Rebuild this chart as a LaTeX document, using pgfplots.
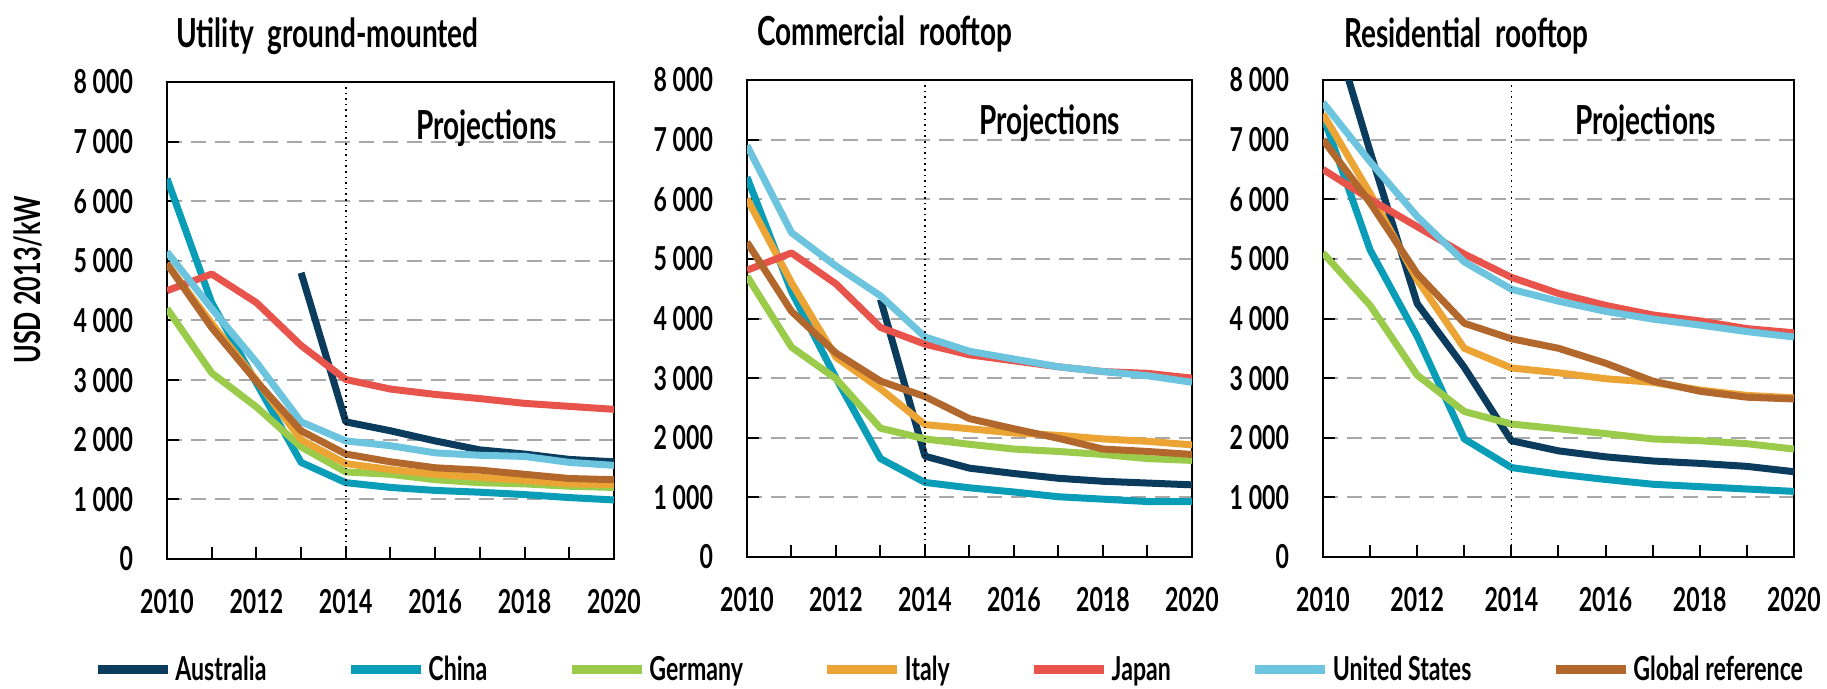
\documentclass[border=0pt]{standalone}
\usepackage{pgfplots}
\pgfplotsset{compat=1.18}
\usepackage{fontspec}
\setmainfont{Lato}[FakeStretch=0.7]
\definecolor{cAus}{HTML}{0B3C5D}
\definecolor{cChn}{HTML}{0A9DB8}
\definecolor{cGer}{HTML}{9BCB4B}
\definecolor{cIta}{HTML}{ECA534}
\definecolor{cJpn}{HTML}{E8534B}
\definecolor{cUSA}{HTML}{6CC4DE}
\definecolor{cGlb}{HTML}{B2682C}
\definecolor{gridgray}{HTML}{A8A8A8}
\tikzset{proj/.style={font=\fontsize{20}{22}\selectfont\bfseries}}
\pgfplotsset{
  panel/.style={
    scale only axis, height=238.5pt,
    xmin=2010, xmax=2020, ymin=0, ymax=8000,
    xtick={2010,...,2020},
    xticklabels={2010,,2012,,2014,,2016,,2018,,2020},
    ytick={0,1000,...,8000},
    yticklabels={0,1 000,2 000,3 000,4 000,5 000,6 000,7 000,8 000},
    xtick pos=bottom, ytick pos=left,
    tick align=inside, major tick length=6pt,
    tick style={black, line width=1pt},
    axis line style={line width=1pt},
    ymajorgrids,
    grid style={gridgray, line width=1pt, dash pattern=on 7.5pt off 4.5pt},
    every axis plot/.append style={line width=3.5pt, line join=round, mark=none},
    tick label style={font=\fontsize{16.5}{18}\selectfont\bfseries},
    xticklabel style={yshift=-11.5pt},
    yticklabel style={xshift=-13.5pt},
    title style={font=\fontsize{20}{24}\selectfont\bfseries, at={(0,1)}, anchor=base west, inner sep=0pt, yshift=11.5pt},
    legend image code/.code={\draw[#1, line width=4.5pt] (0pt,0pt) -- (35pt,0pt);},
  },
}
\begin{document}
\begin{tikzpicture}
\path[use as bounding box] (0,0) rectangle (913.5pt,344.5pt);
% ---------- Utility ground-mounted ----------
\begin{axis}[panel, width=223.5pt, at={(83.5pt,65pt)}, anchor=south west,
  title={Utility\ \ ground-mounted}, title style={xshift=4.5pt},
  ylabel={USD 2013/kW},
  ylabel style={at={(axis description cs:-0.31,0.585)}, anchor=center, font=\fontsize{18}{20}\selectfont\bfseries},
  legend columns=7,
  legend style={at={(-0.1655,-0.2327)}, anchor=west, draw=none, fill=none, inner sep=0pt,
    font=\fontsize{16.5}{18}\selectfont\bfseries,
    nodes={inner sep=1.5pt},
    /tikz/every even column/.append style={column sep=38.5pt}},
]
\addplot[cAus] coordinates {(2013,4800)(2014,2300)(2015,2150)(2016,1980)(2017,1830)(2018,1760)(2019,1670)(2020,1630)};
\addlegendentry{Australia}
\addplot[cChn] coordinates {(2010,6380)(2011,4300)(2012,2950)(2013,1620)(2014,1280)(2015,1200)(2016,1150)(2017,1120)(2018,1080)(2019,1030)(2020,990)};
\addlegendentry{China}
\addplot[cGer] coordinates {(2010,4200)(2011,3120)(2012,2550)(2013,1880)(2014,1460)(2015,1420)(2016,1330)(2017,1280)(2018,1260)(2019,1220)(2020,1200)};
\addlegendentry{Germany}
\addplot[cIta] coordinates {(2010,4950)(2011,3950)(2012,3000)(2013,2000)(2014,1600)(2015,1500)(2016,1420)(2017,1370)(2018,1320)(2019,1260)(2020,1250)};
\addlegendentry{Italy}
\addplot[cJpn] coordinates {(2010,4500)(2011,4780)(2012,4300)(2013,3580)(2014,3010)(2015,2850)(2016,2760)(2017,2690)(2018,2610)(2019,2560)(2020,2510)};
\addlegendentry{Japan}
\addplot[cUSA] coordinates {(2010,5150)(2011,4200)(2012,3300)(2013,2300)(2014,1980)(2015,1900)(2016,1780)(2017,1740)(2018,1720)(2019,1620)(2020,1570)};
\addlegendentry{United States}
\addplot[cGlb] coordinates {(2010,4950)(2011,3880)(2012,2980)(2013,2150)(2014,1760)(2015,1630)(2016,1530)(2017,1490)(2018,1420)(2019,1350)(2020,1330)};
\addlegendentry{Global reference}
\draw[black, line width=0.8pt, dotted] (axis cs:2014,0) -- (axis cs:2014,8000);
\node[proj] at (axis cs:2017.15,7230) {Projections};
\end{axis}
% ---------- Commercial rooftop ----------
\begin{axis}[panel, width=222.5pt, at={(373.5pt,66pt)}, anchor=south west,
  title={Commercial\ \ rooftop}, title style={xshift=5pt}]
\addplot[cAus] coordinates {(2013,4320)(2014,1690)(2015,1490)(2016,1400)(2017,1320)(2018,1270)(2019,1240)(2020,1210)};
\addplot[cChn] coordinates {(2010,6370)(2011,4450)(2012,3000)(2013,1650)(2014,1250)(2015,1160)(2016,1090)(2017,1010)(2018,970)(2019,930)(2020,930)};
\addplot[cGer] coordinates {(2010,4710)(2011,3520)(2012,2990)(2013,2160)(2014,1980)(2015,1890)(2016,1810)(2017,1770)(2018,1720)(2019,1650)(2020,1620)};
\addplot[cIta] coordinates {(2010,6010)(2011,4600)(2012,3350)(2013,2820)(2014,2220)(2015,2150)(2016,2080)(2017,2040)(2018,1980)(2019,1940)(2020,1880)};
\addplot[cJpn] coordinates {(2010,4810)(2011,5100)(2012,4580)(2013,3850)(2014,3570)(2015,3390)(2016,3290)(2017,3190)(2018,3110)(2019,3080)(2020,3000)};
\addplot[cUSA] coordinates {(2010,6900)(2011,5440)(2012,4880)(2013,4380)(2014,3690)(2015,3450)(2016,3320)(2017,3190)(2018,3110)(2019,3040)(2020,2930)};
\addplot[cGlb] coordinates {(2010,5280)(2011,4120)(2012,3420)(2013,2950)(2014,2690)(2015,2320)(2016,2150)(2017,1990)(2018,1810)(2019,1770)(2020,1720)};
\draw[black, line width=0.8pt, dotted] (axis cs:2014,0) -- (axis cs:2014,8000);
\node[proj] at (axis cs:2016.8,7280) {Projections};
\end{axis}
% ---------- Residential rooftop ----------
\begin{axis}[panel, width=235.5pt, at={(661.5pt,66pt)}, anchor=south west,
  title={Residential\ \ rooftop}, title style={xshift=10.5pt, yshift=-1pt}]
\addplot[cAus] coordinates {(2010,9450)(2011,6800)(2012,4250)(2013,3180)(2014,1950)(2015,1780)(2016,1680)(2017,1610)(2018,1570)(2019,1520)(2020,1430)};
\addplot[cChn] coordinates {(2010,7400)(2011,5150)(2012,3700)(2013,1980)(2014,1500)(2015,1390)(2016,1300)(2017,1220)(2018,1180)(2019,1140)(2020,1100)};
\addplot[cGer] coordinates {(2010,5100)(2011,4220)(2012,3050)(2013,2440)(2014,2230)(2015,2150)(2016,2070)(2017,1980)(2018,1950)(2019,1900)(2020,1810)};
\addplot[cIta] coordinates {(2010,7430)(2011,6100)(2012,4650)(2013,3500)(2014,3170)(2015,3090)(2016,2990)(2017,2930)(2018,2800)(2019,2710)(2020,2670)};
\addplot[cJpn] coordinates {(2010,6500)(2011,6000)(2012,5540)(2013,5080)(2014,4690)(2015,4420)(2016,4220)(2017,4060)(2018,3960)(2019,3830)(2020,3760)};
\addplot[cUSA] coordinates {(2010,7620)(2011,6630)(2012,5710)(2013,4950)(2014,4490)(2015,4290)(2016,4120)(2017,3990)(2018,3890)(2019,3780)(2020,3690)};
\addplot[cGlb] coordinates {(2010,7000)(2011,5940)(2012,4750)(2013,3920)(2014,3660)(2015,3500)(2016,3250)(2017,2950)(2018,2780)(2019,2680)(2020,2650)};
\draw[black, line width=0.8pt, dotted] (axis cs:2014,0) -- (axis cs:2014,8000);
\node[proj] at (axis cs:2016.85,7280) {Projections};
\end{axis}
\end{tikzpicture}
\end{document}
